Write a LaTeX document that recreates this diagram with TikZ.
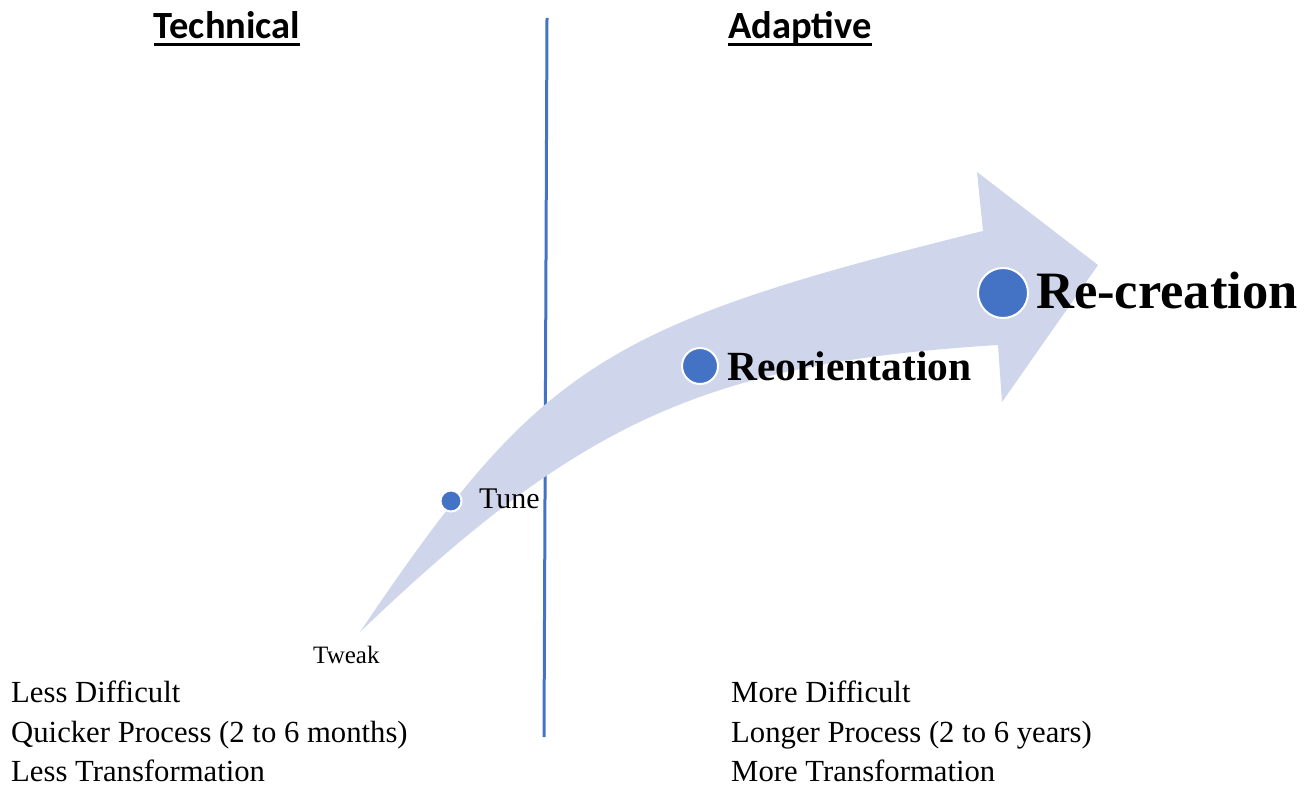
\documentclass[tikz,border=0pt]{standalone}
\usepackage{fontspec}
\setmainfont{Liberation Serif}
\newfontfamily\headfont{Carlito}
\definecolor{arrowfill}{HTML}{CFD5EA}
\definecolor{accent}{HTML}{4472C4}
\begin{document}
\begin{tikzpicture}[x=1pt,y=-1pt,
  stage/.style={circle,fill=accent,draw=white,line width=2pt,inner sep=0pt},
  label/.style={anchor=base west,inner sep=0pt,text=black},
  heading/.style={anchor=base,inner sep=0pt,font=\headfont\bfseries\fontsize{38.5}{42}\selectfont},
  note/.style={anchor=base west,inner sep=0pt,font=\fontsize{30.7}{36}\selectfont}]
\useasboundingbox (0,0) rectangle (1305,786);

% divider between the two columns
\coordinate (divtop) at (547,18);
\coordinate (divbot) at (544,737);
\draw[accent,line width=3pt] (divtop) -- (divbot);

% curved progression arrow
\fill[arrowfill] (360,632)
  .. controls (540,365) and (603,325) .. (983,231)
  -- (977,172) -- (1098,265) -- (1002,402) -- (998,345)
  .. controls (708,363) and (581,420) .. (360,632)
  -- cycle;

% headings
\node[heading] (tech) at (227,39) {Technical};
\node[heading] (adapt) at (800,39) {Adaptive};
\draw[line width=3pt] ([yshift=-6pt]tech.base west) -- ([yshift=-6pt]tech.base east);
\draw[line width=3pt] ([yshift=-6pt]adapt.base west) -- ([yshift=-6pt]adapt.base east);

% stages along the arrow
\node[stage,minimum size=21pt] (tunedot) at (451,501) {};
\node[label,font=\fontsize{30}{34}\selectfont] (tune) at (479,508) {Tune};
\node[label,font=\fontsize{25}{30}\selectfont] (tweak) at (313,663) {Tweak};
\node[stage,minimum size=36pt] (reodot) at (700,366) {};
\node[label,font=\bfseries\fontsize{41.5}{46}\selectfont] (reo) at (727,380) {Reorientation};
\node[stage,minimum size=50pt] (recdot) at (1003,293) {};
\node[label,font=\bfseries\fontsize{52.5}{58}\selectfont] (rec) at (1036,308) {Re-creation};

% column notes
\node[note] (l1) at (11,702) {Less Difficult};
\node[note] (l2) at (11,742) {Quicker Process (2 to 6 months)};
\node[note] (l3) at (11,781) {Less Transformation};
\node[note] (r1) at (731,702) {More Difficult};
\node[note] (r2) at (731,742) {Longer Process (2 to 6 years)};
\node[note] (r3) at (731,781) {More Transformation};
\end{tikzpicture}
\end{document}
